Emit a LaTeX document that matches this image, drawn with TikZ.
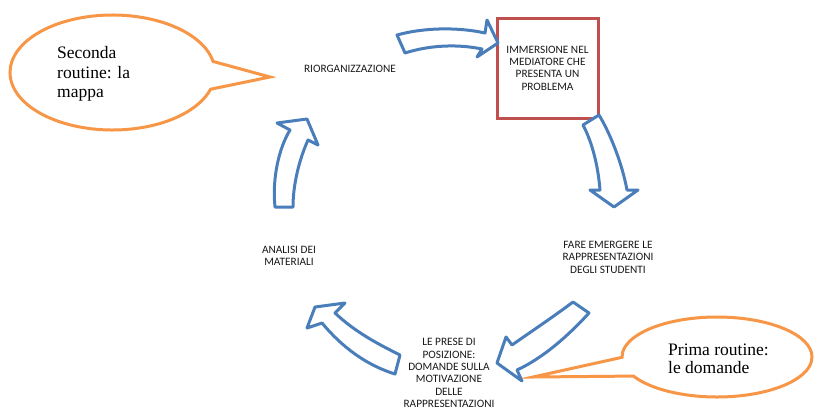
\documentclass[tikz,border=0pt]{standalone}
\usepackage{fontspec}
\setmainfont{Liberation Serif}
\newfontfamily\calibri{Carlito}
\usetikzlibrary{shapes.callouts}
\definecolor{arrowblue}{RGB}{74,126,187}
\definecolor{calloutorange}{RGB}{247,150,70}
\definecolor{boxred}{RGB}{192,80,77}

\begin{document}
\begin{tikzpicture}[x=1pt,y=-1pt,
  step label/.style={font=\calibri\fontsize{11.3}{12.4}\selectfont, align=center, inner sep=0pt, text=black!90},
  blockarrow/.style={draw=arrowblue, line width=3pt, fill=white, line join=round},
  bubble/.style={ellipse callout, draw=calloutorange, line width=3pt, fill=white, inner sep=0pt, callout pointer arc=28},
  bubble text/.style={font=\fontsize{17.5}{19.5}\selectfont, align=left, inner sep=0pt, anchor=north west},
  problem box/.style={draw=boxred, line width=3pt, minimum width=101pt, minimum height=100pt, inner sep=0pt}
]
\useasboundingbox (0,0) rectangle (814,407);

% speech bubbles with the two routines
\node[bubble, minimum width=205pt, minimum height=115pt, callout absolute pointer={(270,77)}] (second) at (112.5,72.5) {};
\node[bubble text] (secondtext) at (57,46.5) {Seconda\\routine: la\\mappa};
\node[bubble, minimum width=190pt, minimum height=80pt, callout absolute pointer={(533,377)}] (first) at (717,357) {};
\node[bubble text, font=\fontsize{17.5}{18}\selectfont] (firsttext) at (668,344) {Prima routine:\\le domande};

% the steps of the cycle
\node[step label] (reorg) at (350,69) {RIORGANIZZAZIONE};
\node[step label, problem box] (immersion) at (547.5,68) {IMMERSIONE NEL\\MEDIATORE CHE\\PRESENTA UN\\PROBLEMA};
\node[step label] (emerge) at (608,257) {FARE EMERGERE LE\\RAPPRESENTAZIONI\\DEGLI STUDENTI};
\node[step label] (analysis) at (289,256) {ANALISI DEI\\MATERIALI};
\node[step label] (positions) at (449,373) {LE PRESE DI\\POSIZIONE:\\DOMANDE SULLA\\MOTIVAZIONE\\DELLE\\RAPPRESENTAZIONI};

% curved block arrows running clockwise between the steps
% reorganisation -> immersion
\draw[blockarrow] (397,35) .. controls (424,27.5) and (458,27) .. (485,33) -- (487,20) -- (498,43) -- (477,57) -- (482,49)
  .. controls (458,44) and (430,45) .. (405,53) -- cycle;
% immersion -> emerging representations
\draw[blockarrow] (599,115) .. controls (610,133) and (622,163) .. (627,190) -- (638,190) -- (614,207) -- (590,190) -- (600,190)
  .. controls (598,165) and (592,142) .. (583,125) -- cycle;
% emerging representations -> taking positions
\draw[blockarrow] (573,302) .. controls (553,317) and (532,331) .. (512,345) -- (506,337) -- (497,363) -- (522,381) -- (517,370)
  .. controls (543,358) and (568,336) .. (589,313) -- cycle;
% taking positions -> analysis
\draw[blockarrow] (400,355) .. controls (378,344) and (355,332) .. (335,313) -- (345,303) -- (315,307) -- (307,328) -- (322,323)
  .. controls (342,347) and (366,365) .. (395,374) -- cycle;
% analysis -> reorganisation
\draw[blockarrow] (293,207) .. controls (293,185) and (299,160) .. (308,140) -- (318,145) -- (307,119) -- (277,123) -- (290,130)
  .. controls (279,148) and (272,178) .. (275,207) -- cycle;
\end{tikzpicture}
\end{document}
